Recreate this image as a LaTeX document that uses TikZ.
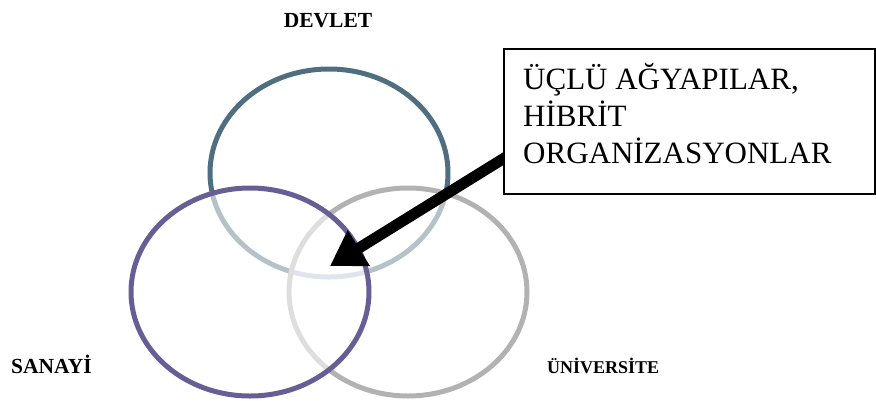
\documentclass[tikz,border=0pt]{standalone}
\usepackage{fontspec}
\setmainfont{Liberation Serif}
\usetikzlibrary{shapes.geometric,arrows.meta}
\definecolor{devletc}{HTML}{4F6F80}
\definecolor{sanayic}{HTML}{675E96}
\definecolor{univc}{HTML}{B2B2B2}
\tikzset{
  ring/.style={ellipse, inner sep=0pt, line width=5pt, minimum width=238pt, minimum height=208pt, fill=white, fill opacity=0.58, draw opacity=1},
  lbl/.style={font=\bfseries, inner sep=0pt, anchor=base},
}
\begin{document}
\begin{tikzpicture}[x=1pt,y=-1pt]
\useasboundingbox (0,0) rectangle (876,400);
\node[ring, draw=devletc, fill opacity=0] (dev) at (329,173) {};
\node[ring, draw=univc] (uni) at (408,292) {};
\node[ring, draw=sanayic] (san) at (250,292) {};
\node[lbl, font=\bfseries\fontsize{21.5}{24}\selectfont] (ldev) at (328,27) {DEVLET};
\node[lbl, font=\bfseries\fontsize{21.5}{24}\selectfont, anchor=base west] (lsan) at (11,373) {SANAYİ};
\node[lbl, font=\bfseries\fontsize{18}{20}\selectfont, anchor=base west] (luni) at (547,373) {ÜNİVERSİTE};
\coordinate (tip) at (330,266);
\coordinate (tail) at (506,157);
\draw[line width=11pt, -{Triangle[length=34pt, width=40pt]}] (tail) -- (tip);
\node[draw, line width=1.8pt, fill=white, anchor=north west, minimum width=371pt, minimum height=145pt, inner sep=0pt] (box) at (503,48) {};
\node[anchor=north west, align=left, inner sep=0pt, font=\fontsize{31}{37}\selectfont] (boxtext) at (523,63) {ÜÇLÜ AĞYAPILAR,\\HİBRİT\\ORGANİZASYONLAR};
\end{tikzpicture}
\end{document}
